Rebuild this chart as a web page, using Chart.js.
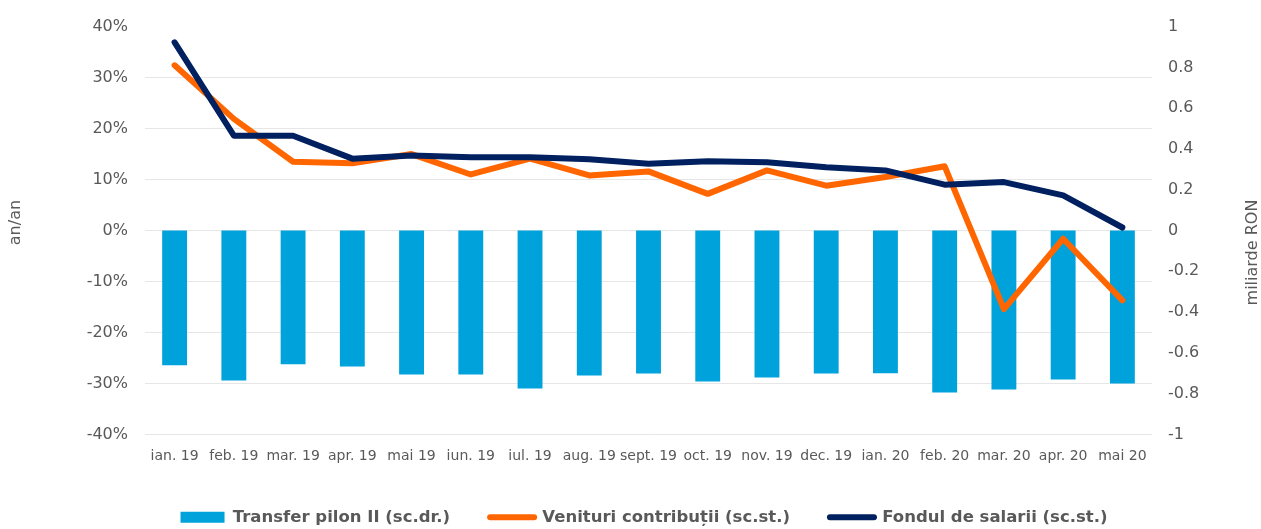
<!DOCTYPE html>
<html>
<head>
<meta charset="utf-8">
<script src="https://cdn.jsdelivr.net/npm/chart.js@4.4.1/dist/chart.umd.min.js"></script>
<style>
    html, body { margin: 0; padding: 0; background: #ffffff; }
    #wrap { width: 1261px; height: 529px; }
</style>
</head>
<body>
<div id="wrap"><canvas id="pilonChart"></canvas></div>
<script>
    //Date
    const luni = ['ian. 19', 'feb. 19', 'mar. 19', 'apr. 19', 'mai 19', 'iun. 19', 'iul. 19', 'aug. 19', 'sept. 19',
        'oct. 19', 'nov. 19', 'dec. 19', 'ian. 20', 'feb. 20', 'mar. 20', 'apr. 20', 'mai 20'];
    const transferPilon = [-0.66, -0.735, -0.655, -0.667, -0.706, -0.706, -0.775, -0.711, -0.701,
        -0.74, -0.721, -0.701, -0.70, -0.794, -0.779, -0.73, -0.75]; // miliarde RON (sc.dr.)
    const venituriContributii = [32.4, 21.9, 13.5, 13.2, 15.0, 11.0, 14.1, 10.8, 11.6,
        7.2, 11.8, 8.8, 10.5, 12.6, -15.4, -1.6, -13.7]; // % an/an (sc.st.)
    const fondulSalarii = [36.9, 18.6, 18.6, 14.1, 14.7, 14.4, 14.4, 14.0, 13.1,
        13.6, 13.4, 12.4, 11.8, 9.0, 9.5, 6.9, 0.6]; // % an/an (sc.st.)
    const ticksStanga = [-40, -30, -20, -10, 0, 10, 20, 30, 40];
    const ticksDreapta = [-1, -0.8, -0.6, -0.4, -0.2, 0, 0.2, 0.4, 0.6, 0.8, 1];

    const gri = '#595959';
    const fontFamily = "'DejaVu Sans', Verdana, sans-serif";

    //titlurile axelor (ambele citite de jos in sus)
    const axisTitles = {
        id: 'axisTitles',
        afterDraw(chart) {
            const {ctx, chartArea} = chart;
            const mid = (chartArea.top + chartArea.bottom) / 2;
            ctx.save();
            ctx.font = '16px ' + fontFamily;
            ctx.fillStyle = gri;
            ctx.textAlign = 'center';
            ctx.textBaseline = 'middle';
            [[16, mid - 8, 'an/an'], [1253, mid + 22, 'miliarde RON']].forEach(t => {
                ctx.save();
                ctx.translate(t[0], t[1]);
                ctx.rotate(-Math.PI / 2);
                ctx.fillText(t[2], 0, 0);
                ctx.restore();
            });
            ctx.restore();
        }
    };

    let pilonContext = document.getElementById('pilonChart');
    let pilonChart = new Chart(pilonContext, {
        type: 'bar',
        data: {
            labels: luni,
            datasets: [
                {
                    type: 'bar',
                    label: 'Transfer pilon II (sc.dr.)',
                    data: transferPilon,
                    yAxisID: 'y1',
                    backgroundColor: '#00A2DB',
                    categoryPercentage: 1,
                    barPercentage: 0.42,
                    order: 3
                },
                {
                    type: 'line',
                    label: 'Venituri contribuții (sc.st.)',
                    data: venituriContributii,
                    yAxisID: 'y',
                    borderColor: '#FF6600',
                    backgroundColor: '#FF6600',
                    borderWidth: 6,
                    pointRadius: 0,
                    tension: 0,
                    borderJoinStyle: 'round',
                    borderCapStyle: 'round',
                    order: 2
                },
                {
                    type: 'line',
                    label: 'Fondul de salarii (sc.st.)',
                    data: fondulSalarii,
                    yAxisID: 'y',
                    borderColor: '#002060',
                    backgroundColor: '#002060',
                    borderWidth: 6,
                    pointRadius: 0,
                    tension: 0,
                    borderJoinStyle: 'round',
                    borderCapStyle: 'round',
                    order: 1
                }
            ]
        },
        options: {
            responsive: true,
            maintainAspectRatio: false,
            animation: false,
            layout: {
                padding: {left: 27, right: 0, top: 26, bottom: -6.5}
            },
            plugins: {
                tooltip: {enabled: false},
                legend: {
                    position: 'bottom',
                    labels: {
                        usePointStyle: true,
                        pointStyleWidth: 44,
                        boxHeight: 11,
                        padding: 40,
                        color: gri,
                        font: {family: fontFamily, size: 16.5, weight: 'bold'},
                        generateLabels: chart => chart.data.datasets.map((ds, i) => ({
                            text: ds.label,
                            fillStyle: ds.type === 'bar' ? ds.backgroundColor : ds.borderColor,
                            strokeStyle: ds.type === 'bar' ? ds.backgroundColor : ds.borderColor,
                            lineWidth: ds.type === 'bar' ? 0 : 6,
                            lineCap: 'round',
                            pointStyle: ds.type === 'bar' ? 'rect' : 'line',
                            fontColor: gri,
                            hidden: false,
                            datasetIndex: i
                        }))
                    }
                }
            },
            scales: {
                x: {
                    grid: {display: false},
                    border: {display: false},
                    ticks: {
                        color: gri,
                        font: {family: fontFamily, size: 14},
                        autoSkip: false,
                        maxRotation: 0,
                        minRotation: 0,
                        padding: 5
                    },
                    afterFit: scale => { scale.height = 34.5; }
                },
                y: {
                    position: 'left',
                    min: -40,
                    max: 40,
                    afterBuildTicks: scale => { scale.ticks = ticksStanga.map(v => ({value: v})); },
                    ticks: {
                        color: gri,
                        font: {family: fontFamily, size: 16},
                        padding: 17,
                        callback: v => v + '%'
                    },
                    grid: {
                        color: ctx => ctx.tick && ctx.tick.value === 40 ? 'rgba(0,0,0,0)' : '#e6e6e6',
                        lineWidth: 1,
                        drawTicks: false
                    },
                    border: {display: false},
                    afterFit: scale => { scale.width = 118; }
                },
                y1: {
                    position: 'right',
                    min: -1,
                    max: 1,
                    afterBuildTicks: scale => { scale.ticks = ticksDreapta.map(v => ({value: v})); },
                    ticks: {
                        color: gri,
                        font: {family: fontFamily, size: 16},
                        padding: 16,
                        callback: v => String(v)
                    },
                    grid: {display: false, drawTicks: false},
                    border: {display: false},
                    afterFit: scale => { scale.width = 109; }
                }
            }
        },
        plugins: [axisTitles]
    });
</script>
</body>
</html>
